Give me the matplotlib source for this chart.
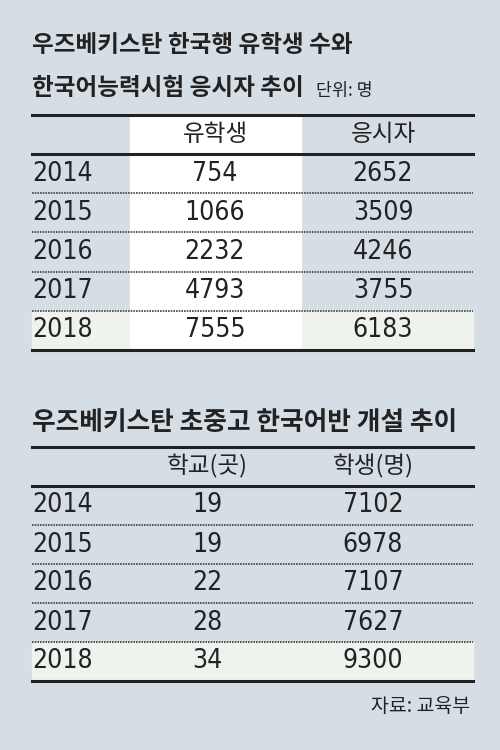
import matplotlib.pyplot as plt
from matplotlib.patches import Rectangle

plt.rcParams["font.family"] = ["Noto Sans CJK KR", "DejaVu Sans"]

BG = "#d6dee5"
HIGHLIGHT = "#eef3ee"
INK = "#222222"

years = ["2014", "2015", "2016", "2017", "2018"]

# table 1
t1_title = ["우즈베키스탄 한국행 유학생 수와", "한국어능력시험 응시자 추이"]
t1_unit = "단위: 명"
t1_headers = ["유학생", "응시자"]
students = [754, 1066, 2232, 4793, 7555]
applicants = [2652, 3509, 4246, 3755, 6183]

# table 2
t2_title = "우즈베키스탄 초중고 한국어반 개설 추이"
t2_headers = ["학교(곳)", "학생(명)"]
schools = [19, 19, 22, 28, 34]
pupils = [7102, 6978, 7107, 7627, 9300]
source = "자료: 교육부"

fig = plt.figure(figsize=(5, 7.5), dpi=100, facecolor=BG)
ax = fig.add_axes([0, 0, 1, 1])
ax.set_xlim(0, 500)
ax.set_ylim(750, 0)
ax.axis("off")

LEFT, RIGHT = 32, 473
NUM = dict(fontsize=19, fontfamily="DejaVu Sans", fontstretch="condensed",
           color=INK, zorder=4)


def draw_table(top, header_bottom, row_h, headers, col_x, cols, white_col=None):
    n = len(years)
    bottom = header_bottom + row_h * n
    # highlighted last row
    ax.add_patch(Rectangle((LEFT, bottom - row_h), RIGHT - LEFT, row_h,
                           color=HIGHLIGHT, zorder=1))
    if white_col:
        ax.add_patch(Rectangle((white_col[0], top), white_col[1] - white_col[0],
                               bottom - top, color="white", zorder=2))
    ax.plot([LEFT, RIGHT], [top, top], color=INK, lw=2.2, zorder=3)
    ax.plot([LEFT, RIGHT], [header_bottom, header_bottom], color=INK, lw=2.2, zorder=3)
    ax.plot([LEFT, RIGHT], [bottom, bottom], color=INK, lw=2.2, zorder=3)
    for i in range(1, n):
        y = header_bottom + row_h * i
        ax.plot([LEFT, RIGHT], [y, y], color="#444444", lw=1.2,
                ls=(0, (1, 0.6)), zorder=3)
    hy = (top + header_bottom) / 2
    for x, h in zip(col_x, headers):
        ax.text(x, hy, h, ha="center", va="center", fontsize=17, color=INK, zorder=4)
    for i, yr in enumerate(years):
        y = header_bottom + row_h * (i + 0.5)
        ax.text(LEFT, y, yr, ha="left", va="center", **NUM)
        for x, col in zip(col_x, cols):
            ax.text(x, y, str(col[i]), ha="center", va="center", **NUM)


# titles
ax.text(LEFT, 45, t1_title[0], ha="left", va="center", fontsize=17,
        fontweight="bold", color=INK)
ax.text(LEFT, 88, t1_title[1], ha="left", va="center", fontsize=17,
        fontweight="bold", color=INK)
ax.text(316, 91, t1_unit, ha="left", va="center", fontsize=12.5, color=INK)

draw_table(115, 154, 39.2, t1_headers, [215, 383], [students, applicants],
           white_col=(130, 301))

ax.text(LEFT, 423, t2_title, ha="left", va="center", fontsize=18.5,
        fontweight="bold", color=INK)
draw_table(447, 486, 39, t2_headers, [207, 373], [schools, pupils])

ax.text(470, 707, source, ha="right", va="center", fontsize=14, color=INK)

fig.savefig("out.png", dpi=100, facecolor=BG)
